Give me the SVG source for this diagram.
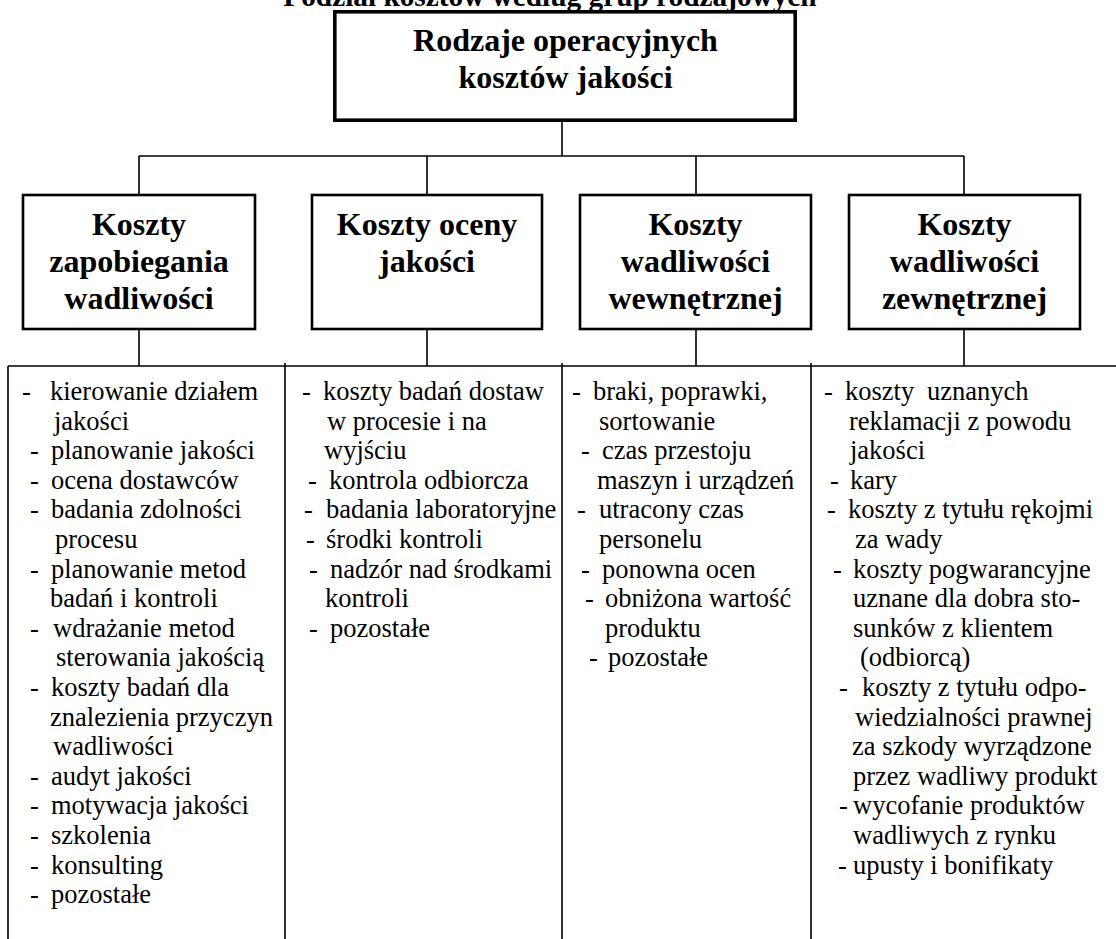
<svg xmlns="http://www.w3.org/2000/svg" width="1116" height="939" viewBox="0 0 1116 939">
<style>
.box{fill:#fff;stroke:#000;stroke-width:2.6}
.topbox{fill:#fff;stroke:#000;stroke-width:3.6}
.conn{stroke:#000;stroke-width:1.6;fill:none}
.h{font-family:"Liberation Serif","Times New Roman",serif;font-weight:bold;font-size:32px;text-anchor:middle;fill:#000}
.title{font-family:"Liberation Serif","Times New Roman",serif;font-weight:bold;font-size:29.3px;text-anchor:middle;fill:#000}
.t{font-family:"Liberation Serif","Times New Roman",serif;font-size:26.5px;fill:#000}
</style>
<rect width="1116" height="939" fill="#fff"/>
<text class="title" x="550" y="6">Podział kosztów według grup rodzajowych</text>

<g id="connectors">
<path class="conn" d="M562 122V156M139 156H964M139 156V195M427 156V195M696 156V195M964 156V195"/>
<path class="conn" d="M139 329V366M427 329V366M696 329V366M964 329V366M8 366H1116"/>
<path class="conn" d="M8 366V939M285 363V939M562 363V939M811 363V939"/>
</g>

<g id="root">
<rect class="topbox" x="334.8" y="11.8" width="460.4" height="108.4"/>
<text class="h" x="565.5" y="51">Rodzaje operacyjnych</text>
<text class="h" x="565.5" y="88">kosztów jakości</text>
</g>

<g id="n1">
<rect class="box" x="23" y="195" width="232" height="134"/>
<text class="h" x="139" y="235">Koszty</text>
<text class="h" x="139" y="272">zapobiegania</text>
<text class="h" x="139" y="309">wadliwości</text>
</g>
<g id="n2">
<rect class="box" x="312" y="195" width="230" height="134"/>
<text class="h" x="427" y="235">Koszty oceny</text>
<text class="h" x="427" y="272">jakości</text>
</g>
<g id="n3">
<rect class="box" x="580" y="195" width="231" height="134"/>
<text class="h" x="695.5" y="235">Koszty</text>
<text class="h" x="695.5" y="272">wadliwości</text>
<text class="h" x="695.5" y="309">wewnętrznej</text>
</g>
<g id="n4">
<rect class="box" x="849" y="195" width="231" height="134"/>
<text class="h" x="964.5" y="235">Koszty</text>
<text class="h" x="964.5" y="272">wadliwości</text>
<text class="h" x="964.5" y="309">zewnętrznej</text>
</g>

<g id="list1" class="t">
<text y="400"><tspan x="22">-</tspan><tspan x="50">kierowanie działem</tspan></text>
<text x="54" y="429.6">jakości</text>
<text y="459.2"><tspan x="30">-</tspan><tspan x="51">planowanie jakości</tspan></text>
<text y="488.8"><tspan x="30">-</tspan><tspan x="51">ocena dostawców</tspan></text>
<text y="518.4"><tspan x="30">-</tspan><tspan x="51">badania zdolności</tspan></text>
<text x="55" y="548">procesu</text>
<text y="577.6"><tspan x="30">-</tspan><tspan x="51">planowanie metod</tspan></text>
<text x="50" y="607.2">badań i kontroli</text>
<text y="636.8"><tspan x="30">-</tspan><tspan x="53">wdrażanie metod</tspan></text>
<text x="56" y="666.4">sterowania jakością</text>
<text y="696"><tspan x="30">-</tspan><tspan x="51">koszty badań dla</tspan></text>
<text x="50" y="725.6">znalezienia przyczyn</text>
<text x="53" y="755.2">wadliwości</text>
<text y="784.8"><tspan x="30">-</tspan><tspan x="51">audyt jakości</tspan></text>
<text y="814.4"><tspan x="30">-</tspan><tspan x="51">motywacja jakości</tspan></text>
<text y="844"><tspan x="30">-</tspan><tspan x="51">szkolenia</tspan></text>
<text y="873.6"><tspan x="30">-</tspan><tspan x="51">konsulting</tspan></text>
<text y="903.2"><tspan x="30">-</tspan><tspan x="51">pozostałe</tspan></text>
</g>

<g id="list2" class="t">
<text y="400"><tspan x="302">-</tspan><tspan x="323">koszty badań dostaw</tspan></text>
<text x="327" y="429.6">w procesie i na</text>
<text x="324" y="459.2">wyjściu</text>
<text y="488.8"><tspan x="308">-</tspan><tspan x="329">kontrola odbiorcza</tspan></text>
<text y="518.4"><tspan x="304">-</tspan><tspan x="326">badania laboratoryjne</tspan></text>
<text y="548"><tspan x="306">-</tspan><tspan x="326">środki kontroli</tspan></text>
<text y="577.6"><tspan x="309">-</tspan><tspan x="330">nadzór nad środkami</tspan></text>
<text x="325" y="607.2">kontroli</text>
<text y="636.8"><tspan x="309">-</tspan><tspan x="330">pozostałe</tspan></text>
</g>

<g id="list3" class="t">
<text y="400"><tspan x="572">-</tspan><tspan x="593">braki, poprawki,</tspan></text>
<text x="599" y="429.6">sortowanie</text>
<text y="459.2"><tspan x="581">-</tspan><tspan x="602">czas przestoju</tspan></text>
<text x="597" y="488.8">maszyn i urządzeń</text>
<text y="518.4"><tspan x="577">-</tspan><tspan x="599">utracony czas</tspan></text>
<text x="599" y="548">personelu</text>
<text y="577.6"><tspan x="581">-</tspan><tspan x="602">ponowna ocen</tspan></text>
<text y="607.2"><tspan x="585">-</tspan><tspan x="605">obniżona wartość</tspan></text>
<text x="605" y="636.8">produktu</text>
<text y="666.4"><tspan x="589">-</tspan><tspan x="608">pozostałe</tspan></text>
</g>

<g id="list4" class="t">
<text y="400"><tspan x="824">-</tspan><tspan x="845">koszty</tspan><tspan x="927">uznanych</tspan></text>
<text x="849" y="429.6">reklamacji z powodu</text>
<text x="850" y="459.2">jakości</text>
<text y="488.8"><tspan x="830">-</tspan><tspan x="850">kary</tspan></text>
<text y="518.4"><tspan x="827">-</tspan><tspan x="848">koszty z tytułu rękojmi</tspan></text>
<text x="855" y="548">za wady</text>
<text y="577.6"><tspan x="833">-</tspan><tspan x="853">koszty pogwarancyjne</tspan></text>
<text x="853" y="607.2">uznane dla dobra sto-</text>
<text x="853" y="636.8">sunków z klientem</text>
<text x="860" y="666.4">(odbiorcą)</text>
<text y="696"><tspan x="839">-</tspan><tspan x="862">koszty z tytułu odpo-</tspan></text>
<text x="855" y="725.6">wiedzialności prawnej</text>
<text x="852" y="755.2">za szkody wyrządzone</text>
<text x="853" y="784.8">przez wadliwy produkt</text>
<text y="814.4"><tspan x="839">-</tspan><tspan x="853">wycofanie produktów</tspan></text>
<text x="853" y="844">wadliwych z rynku</text>
<text y="873.6"><tspan x="838">-</tspan><tspan x="853">upusty i bonifikaty</tspan></text>
</g>
</svg>
